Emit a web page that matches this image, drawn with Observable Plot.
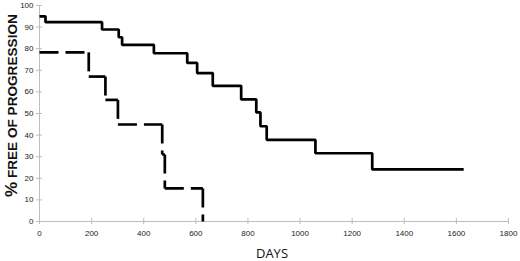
<!DOCTYPE html>
<html>
<head>
<meta charset="utf-8">
<script src="https://cdn.jsdelivr.net/npm/d3@7"></script>
<script src="https://cdn.jsdelivr.net/npm/@observablehq/plot@0.6"></script>
<style>
  html, body { margin: 0; padding: 0; background: #fff; }
  svg { display: block; }
</style>
</head>
<body>
<div id="chart"></div>
<script>
// Solid curve (Kaplan–Meier steps)
const solidDays = [0, 23, 240, 304, 317, 439, 567, 605, 665, 774, 832, 848, 872, 1059, 1277, 1628];
const solidPct  = [95, 92.3, 88.9, 85.3, 81.8, 77.9, 73.4, 68.7, 62.8, 56.5, 50.5, 44.1, 37.8, 31.6, 24.1, 24.1];

// Dashed curve
const dashedDays = [0, 189, 253, 301, 471, 481, 627];
const dashedPct  = [78.3, 67.1, 56.3, 44.9, 31, 15.3, 0];

// Axis ticks
const xTicks = [0, 200, 400, 600, 800, 1000, 1200, 1400, 1600, 1800];
const yTicks = [0, 10, 20, 30, 40, 50, 60, 70, 80, 90, 100];

const xTitle = "DAYS";
const yTitlePct = "%";
const yTitleRest = " FREE OF PROGRESSION";

const solid = solidDays.map((d, i) => ({day: d, pct: solidPct[i]}));

// Build step segments for the dashed curve (each segment dashed separately)
const dashedSegs = [];
for (let i = 0; i < dashedDays.length - 1; i++) {
  dashedSegs.push({x1: dashedDays[i], y1: dashedPct[i], x2: dashedDays[i + 1], y2: dashedPct[i]});
  dashedSegs.push({x1: dashedDays[i + 1], y1: dashedPct[i], x2: dashedDays[i + 1], y2: dashedPct[i + 1]});
}

const axisGray = "#bdbdbd";
const font = "'Liberation Sans', Arial, sans-serif";
const fmt = d => String(d);

const chart = Plot.plot({
  width: 520,
  height: 261,
  marginLeft: 39,
  marginRight: 12,
  marginTop: 5,
  marginBottom: 40,
  style: {fontFamily: font, background: "#fff"},
  x: {domain: [0, 1800]},
  y: {domain: [0, 100]},
  marks: [
    Plot.ruleY([0], {x1: 0, x2: 1800, stroke: axisGray, strokeWidth: 1}),
    Plot.ruleX([0], {y1: 0, y2: 100, stroke: axisGray, strokeWidth: 1}),
    Plot.ruleY(yTicks, {x1: 0, x2: 0, insetLeft: -3, insetRight: -3, stroke: axisGray}),
    Plot.ruleX(xTicks, {y1: 0, y2: 0, insetTop: -3, insetBottom: -3, stroke: axisGray}),
    Plot.axisY({ticks: yTicks, tickFormat: fmt, tickSize: 0, tickPadding: 6, fontSize: 8, label: null, fill: "#222"}),
    Plot.axisX({ticks: xTicks, tickFormat: fmt, tickSize: 0, tickPadding: 9, fontSize: 8, label: null, fill: "#222"}),
    Plot.line(solid, {x: "day", y: "pct", curve: "step-after", stroke: "#000", strokeWidth: 2.7, strokeLinejoin: "miter", strokeLinecap: "butt"}),
    Plot.link(dashedSegs, {x1: "x1", y1: "y1", x2: "x2", y2: "y2", stroke: "#000", strokeWidth: 2.7, strokeDasharray: "19,7", strokeLinecap: "butt"})
  ]
});

const svg = d3.select(chart);
svg.append("text")
  .attr("x", 272)
  .attr("y", 258)
  .attr("text-anchor", "middle")
  .style("font-family", "'Open Sans', sans-serif")
  .style("font-size", "13px")
  .style("fill", "#111")
  .text(xTitle);

const yt = svg.append("text")
  .attr("transform", "translate(17,197) rotate(-90)")
  .attr("text-anchor", "start")
  .style("font-family", font)
  .style("font-weight", "bold")
  .style("font-size", "13.6px")
  .style("fill", "#111");
yt.append("tspan").style("font-size", "17px").text(yTitlePct);
yt.append("tspan").text(yTitleRest);

document.getElementById("chart").appendChild(chart);
</script>
</body>
</html>
